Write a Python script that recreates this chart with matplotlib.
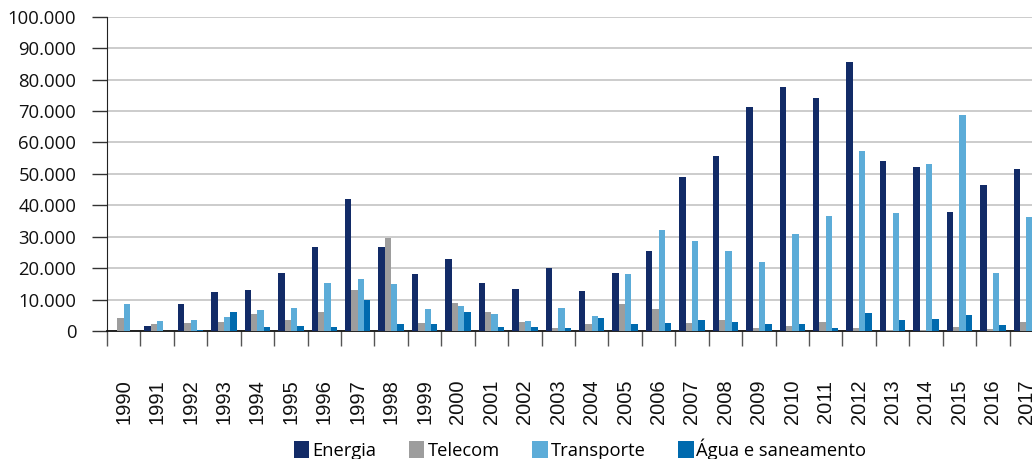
import numpy as np
import matplotlib
matplotlib.use("Agg")
import matplotlib.pyplot as plt

## data
years = [str(y) for y in range(1990, 2018)]
energia = [0, 1.5, 8.5, 12.3, 13.2, 18.3, 26.6, 42.1, 26.6, 18.0,
           22.8, 15.4, 13.5, 20.2, 12.6, 18.3, 25.6, 49.1, 55.8, 71.3,
           77.7, 74.2, 85.6, 54.2, 52.3, 38.0, 46.6, 51.6]
telecom = [4.0, 2.1, 2.4, 2.8, 5.3, 3.4, 5.9, 13.2, 29.7, 2.4,
           8.8, 6.2, 2.8, 0.8, 2.1, 8.5, 6.9, 2.4, 3.4, 0.8,
           1.5, 2.8, 0.8, 0.2, 0.2, 1.2, 0.5, 2.8]
transporte = [8.5, 3.1, 3.4, 4.3, 6.6, 7.2, 15.4, 16.7, 14.8, 6.9,
              7.8, 5.3, 3.1, 7.2, 4.7, 18.0, 32.0, 28.5, 25.6, 22.1,
              31.0, 36.7, 57.4, 37.7, 53.2, 68.8, 18.6, 36.4]
agua = [0, 0, 0.2, 6.2, 1.2, 1.5, 1.2, 10.0, 2.1, 2.1,
        6.2, 1.3, 1.2, 1.0, 4.0, 2.1, 2.4, 3.4, 2.8, 2.1,
        2.1, 0.8, 5.6, 3.4, 3.7, 5.1, 1.8, 3.0]
series = ['Energia', 'Telecom', 'Transporte', 'Água e saneamento']
colors = ['#122b67', '#9d9d9d', '#5cacd8', '#006aae']
yticks = list(range(0, 100001, 10000))

plt.rcParams['font.family'] = ['Open Sans', 'DejaVu Sans']

W, H = 1032, 459
fig = plt.figure(figsize=(W / 100, H / 100), dpi=100)
# axis runs past the right edge, as in the reference
ax = fig.add_axes([107 / W, (H - 331) / H, (1043 - 107) / W, (331 - 16.7) / H])

n = len(years)
x = np.arange(n) + 0.5
bw = 0.19
data = [energia, telecom, transporte, agua]
for k, (name, vals, c) in enumerate(zip(series, data, colors)):
    ax.bar(x + (k - 1.5) * bw, np.array(vals) * 1000, width=bw,
           color=c, label=name, zorder=3)

ax.set_xlim(0, n)
ax.set_ylim(0, 100000)

ax.set_yticks(yticks, ['{:,}'.format(v).replace(',', '.') for v in yticks],
              fontsize=13.3, color='#111111')
ax.tick_params(axis='y', direction='out', length=11, width=1,
               color='#333333', pad=11)
ax.grid(axis='y', color='#c8c8c8', linewidth=1.3, zorder=0)

ax.set_xticks(np.arange(n + 1), [''] * (n + 1))
ax.set_xticks(x, years, minor=True, rotation=90, fontfamily='Liberation Sans',
              fontsize=14.5, color='#111111')
ax.tick_params(axis='x', which='major', direction='out', length=11,
               width=1, color='#555555')
ax.tick_params(axis='x', which='minor', length=0, pad=35)

for s in ['top', 'right']:
    ax.spines[s].set_visible(False)
ax.spines['left'].set_color('#222222')
ax.spines['bottom'].set_color('#111111')
ax.spines['bottom'].set_linewidth(1.3)

fig.legend(loc='center', bbox_to_anchor=(580 / W, (H - 449) / H), ncol=4,
           frameon=False, prop={'family': 'Open Sans', 'size': 13.2},
           handlelength=0.87, handleheight=1.05, handletextpad=0.16,
           columnspacing=1.75, borderpad=0, borderaxespad=0)

fig.savefig('out.png', dpi=100)
